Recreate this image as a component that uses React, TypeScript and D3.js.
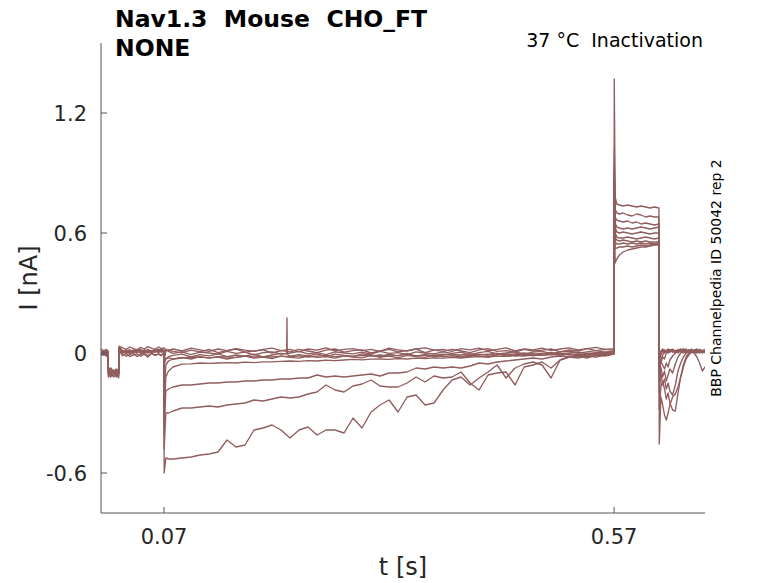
import * as d3 from 'd3';

const W = 778;
const H = 583;

// sample times (s) for each phase of the protocol
const tHold = [0, 0.003, 0.006, 0.0078, 0.0082, 0.011, 0.014, 0.017, 0.0196, 0.0202, 0.024, 0.028, 0.032, 0.036, 0.04, 0.044, 0.048, 0.052, 0.056, 0.06, 0.064, 0.067, 0.0698];
const tPre = [0.0702, 0.072, 0.075, 0.08,
  0.09, 0.1, 0.11, 0.12, 0.13, 0.14, 0.15, 0.16, 0.17, 0.18,
  0.19, 0.2, 0.21, 0.22, 0.23, 0.24, 0.25, 0.26, 0.27, 0.28,
  0.29, 0.3, 0.31, 0.32, 0.33, 0.34, 0.35, 0.36, 0.37, 0.38,
  0.39, 0.4, 0.41, 0.42, 0.43, 0.44, 0.45, 0.46, 0.47, 0.48,
  0.49, 0.5, 0.51, 0.52, 0.53, 0.54, 0.55, 0.56,
  0.5698];
const tTest = [0.5702, 0.5712, 0.573, 0.576, 0.58, 0.585, 0.59, 0.595, 0.6, 0.605, 0.61, 0.615, 0.6198];
const tTail = [0.6202, 0.622, 0.624, 0.626, 0.628, 0.63, 0.632, 0.635, 0.638, 0.641, 0.644, 0.647, 0.65, 0.653, 0.656, 0.659, 0.662, 0.665, 0.668, 0.671];

// current (nA), one row per sweep
const iHold = [
  [0.004, -0.006, 0.008, 0.0, -0.09, -0.1, -0.085, -0.11, -0.095, 0.03, 0.01, 0.004, 0.014, 0.0, 0.01, 0.006, 0.016, 0.002, 0.012, 0.008, 0.018, 0.01, 0.006],
  [0.01, 0.002, -0.004, 0.008, -0.08, -0.095, -0.105, -0.09, -0.1, 0.025, 0.0, 0.012, 0.006, 0.016, 0.004, 0.012, 0.0, 0.014, 0.008, 0.018, 0.006, 0.014, 0.01],
  [-0.004, 0.008, 0.002, -0.006, -0.1, -0.085, -0.095, -0.12, -0.105, 0.02, 0.008, -0.002, 0.01, 0.004, 0.014, -0.002, 0.008, 0.012, 0.002, 0.01, 0.016, 0.004, 0.012],
  [0.006, -0.002, 0.01, 0.004, -0.11, -0.1, -0.09, -0.1, -0.125, 0.015, 0.012, 0.006, -0.002, 0.01, 0.002, 0.016, 0.006, 0.0, 0.012, 0.004, 0.01, 0.02, 0.008],
  [0.0, 0.01, -0.006, 0.006, -0.07, -0.09, -0.1, -0.085, -0.08, 0.028, 0.004, 0.014, 0.0, 0.008, 0.012, 0.004, 0.01, 0.018, 0.006, 0.014, 0.002, 0.012, 0.016],
  [0.0, -0.012, -0.004, -0.014, -0.095, -0.11, -0.1, -0.095, -0.09, 0.01, -0.004, -0.016, -0.008, -0.002, -0.018, -0.006, -0.002, -0.014, 0.0, -0.01, -0.004, -0.012, 0.002],
  [-0.006, 0.004, 0.012, 0.002, -0.12, -0.105, -0.115, -0.1, -0.11, 0.018, 0.006, 0.01, 0.016, 0.002, 0.008, 0.018, 0.004, 0.01, 0.0, 0.016, 0.01, 0.022, 0.004],
  [0.002, 0.012, 0.0, 0.01, -0.085, -0.075, -0.095, -0.08, -0.1, 0.026, 0.01, 0.002, 0.012, 0.006, 0.018, 0.008, 0.002, 0.014, 0.01, 0.004, 0.018, 0.012, 0.014],
  [0.02, 0.012, 0.018, 0.008, -0.105, -0.12, -0.09, -0.115, -0.085, 0.034, 0.026, 0.018, 0.03, 0.022, 0.016, 0.028, 0.02, 0.032, 0.024, 0.018, 0.03, 0.022, 0.026],
  [-0.012, -0.004, -0.016, 0.0, -0.075, -0.1, -0.12, -0.105, -0.115, 0.012, -0.014, -0.002, -0.018, -0.01, -0.004, -0.016, -0.006, -0.02, -0.002, -0.012, -0.006, -0.014, 0.004],
];

const iPre = [
  [-0.6, -0.525, -0.53, -0.53,
    -0.525, -0.52, -0.51, -0.505, -0.495, -0.435, -0.47, -0.46, -0.385, -0.375,
    -0.36, -0.385, -0.425, -0.385, -0.37, -0.41, -0.385, -0.385, -0.4, -0.325,
    -0.375, -0.295, -0.26, -0.235, -0.295, -0.22, -0.21, -0.26, -0.25, -0.185,
    -0.135, -0.12, -0.16, -0.125, -0.095, -0.06, -0.125, -0.075, -0.055, -0.045,
    -0.06, -0.125, -0.035, -0.02, -0.025, -0.015, -0.02, -0.01,
    -0.005],
  [-0.48, -0.3, -0.3, -0.29,
    -0.275, -0.275, -0.27, -0.265, -0.27, -0.26, -0.255, -0.25, -0.235, -0.24,
    -0.23, -0.22, -0.225, -0.22, -0.205, -0.195, -0.16, -0.185, -0.195, -0.165,
    -0.155, -0.135, -0.165, -0.17, -0.17, -0.15, -0.12, -0.145, -0.115, -0.125,
    -0.12, -0.095, -0.15, -0.185, -0.11, -0.1, -0.095, -0.16, -0.07, -0.06,
    -0.045, -0.075, -0.035, -0.02, -0.015, -0.025, -0.01, -0.015,
    -0.005],
  [-0.4, -0.19, -0.18, -0.17,
    -0.16, -0.16, -0.155, -0.15, -0.15, -0.145, -0.145, -0.14, -0.14, -0.135,
    -0.135, -0.13, -0.13, -0.125, -0.125, -0.11, -0.12, -0.115, -0.12, -0.115,
    -0.11, -0.105, -0.115, -0.1, -0.1, -0.095, -0.075, -0.08, -0.07, -0.075,
    -0.07, -0.075, -0.065, -0.05, -0.055, -0.045, -0.04, -0.035, -0.03, -0.025,
    -0.03, -0.02, -0.015, -0.02, -0.01, -0.015, -0.005, -0.01,
    0.0],
  [-0.32, -0.12, -0.09, -0.07,
    -0.056, -0.054, -0.05, -0.052, -0.05, -0.048, -0.05, -0.046, -0.048, -0.044,
    -0.044, -0.042, -0.04, -0.042, -0.038, -0.04, -0.036, -0.038, -0.035, -0.032,
    -0.034, -0.031, -0.03, -0.032, -0.028, -0.03, -0.026, -0.028, -0.024, -0.026,
    -0.022, -0.025, -0.02, -0.018, -0.02, -0.015, -0.017, -0.013, -0.015, -0.01,
    -0.012, -0.008, -0.01, -0.006, -0.008, -0.004, -0.006, -0.002,
    -0.002],
  [-0.2, -0.06, -0.04, -0.03,
    -0.025, -0.022, -0.02, -0.024, -0.018, -0.02, -0.022, -0.016, -0.02, -0.018,
    -0.02, -0.016, -0.018, -0.014, -0.02, -0.016, -0.012, -0.018, -0.014, -0.016,
    -0.012, -0.016, -0.01, -0.014, -0.012, -0.008, -0.014, -0.01, -0.012, -0.006,
    -0.01, -0.008, -0.004, -0.01, -0.006, -0.002, -0.008, -0.004, 0.0, -0.006,
    -0.002, 0.002, -0.004, 0.0, 0.004, -0.002, 0.002, 0.004,
    0.0],
  [-0.06, -0.03, -0.018, -0.012,
    -0.006, -0.02, -0.008, -0.014, -0.004, -0.018, -0.01, -0.016, -0.006, -0.02,
    -0.01, -0.002, -0.016, -0.008, -0.014, -0.004, -0.018, -0.006, -0.012, -0.018,
    -0.004, -0.01, -0.02, -0.006, -0.014, -0.002, -0.016, -0.008, -0.02, -0.01,
    -0.004, -0.014, -0.018, -0.006, -0.012, -0.002, -0.016, -0.008, -0.004, -0.014,
    -0.006, 0.0, -0.012, -0.004, -0.014, -0.002, -0.008, 0.0,
    -0.004],
  [-0.03, 0.01, 0.016, 0.008,
    0.002, 0.014, 0.006, 0.018, 0.002, 0.012, 0.02, 0.004, 0.01, 0.016,
    0.0, 0.012, 0.006, 0.018, 0.01, 0.002, 0.014, 0.02, 0.004, 0.012,
    0.016, 0.0, 0.01, 0.018, 0.006, 0.012, 0.02, 0.002, 0.014, 0.008,
    0.018, 0.01, 0.002, 0.016, 0.022, 0.008, 0.012, 0.004, 0.018, 0.01,
    0.014, 0.02, 0.006, 0.016, 0.01, 0.022, 0.012, 0.018,
    0.014],
  [-0.02, 0.015, 0.008, -0.002,
    0.006, -0.008, 0.004, 0.0, -0.006, 0.008, -0.002, 0.004, -0.01, 0.002,
    0.006, -0.006, 0.0, 0.008, -0.004, 0.002, -0.008, 0.006, 0.0, -0.004,
    0.004, -0.006, 0.008, -0.002, 0.002, -0.008, 0.006, 0.0, -0.004, 0.006,
    -0.002, 0.004, -0.008, 0.002, 0.008, -0.004, 0.0, 0.006, -0.006, 0.004,
    0.008, -0.002, 0.004, 0.01, 0.0, 0.006, 0.012, 0.004,
    0.01],
  [0.025, 0.018, 0.012, 0.02,
    0.01, 0.024, 0.016, 0.008, 0.02, 0.012, 0.022, 0.014, 0.008, 0.018,
    0.024, 0.012, 0.018, 0.006, 0.02, 0.014, 0.026, 0.01, 0.018, 0.022,
    0.012, 0.018, 0.008, 0.024, 0.016, 0.01, 0.02, 0.026, 0.014, 0.018,
    0.008, 0.022, 0.016, 0.024, 0.012, 0.018, 0.026, 0.01, 0.02, 0.016,
    0.024, 0.012, 0.02, 0.026, 0.016, 0.022, 0.028, 0.018,
    0.022],
  [-0.02, -0.03, -0.024, -0.03,
    -0.022, -0.03, -0.018, -0.026, -0.02, -0.03, -0.022, -0.016, -0.026, -0.02,
    -0.028, -0.016, -0.022, -0.026, -0.014, -0.022, -0.018, -0.026, -0.014, -0.02,
    -0.024, -0.012, -0.02, -0.016, -0.024, -0.012, -0.018, -0.022, -0.01, -0.018,
    -0.014, -0.02, -0.01, -0.016, -0.02, -0.008, -0.004, -0.014, -0.01, -0.004,
    -0.012, -0.006, -0.002, -0.01, -0.004, -0.008, 0.0, -0.006,
    -0.004],
];

const iTest = [
  [0.78, 0.45, 0.47, 0.49, 0.505, 0.515, 0.52, 0.525, 0.53, 0.53, 0.535, 0.54, 0.54],
  [0.8, 0.52, 0.525, 0.53, 0.53, 0.535, 0.53, 0.535, 0.54, 0.535, 0.54, 0.545, 0.545],
  [0.84, 0.56, 0.545, 0.545, 0.55, 0.545, 0.55, 0.545, 0.55, 0.545, 0.55, 0.545, 0.55],
  [0.86, 0.58, 0.565, 0.56, 0.565, 0.56, 0.555, 0.56, 0.555, 0.56, 0.555, 0.555, 0.555],
  [0.88, 0.6, 0.58, 0.575, 0.575, 0.58, 0.575, 0.57, 0.575, 0.58, 0.575, 0.57, 0.575],
  [0.9, 0.63, 0.605, 0.6, 0.605, 0.6, 0.595, 0.6, 0.605, 0.6, 0.595, 0.6, 0.6],
  [0.92, 0.65, 0.63, 0.625, 0.62, 0.625, 0.62, 0.625, 0.63, 0.625, 0.62, 0.625, 0.63],
  [0.95, 0.68, 0.665, 0.66, 0.655, 0.66, 0.65, 0.655, 0.645, 0.65, 0.645, 0.64, 0.645],
  [1.02, 0.72, 0.7, 0.695, 0.7, 0.69, 0.685, 0.695, 0.69, 0.68, 0.685, 0.68, 0.68],
  [1.37, 0.78, 0.745, 0.74, 0.735, 0.74, 0.735, 0.73, 0.735, 0.73, 0.725, 0.73, 0.725],
];

const iTail = [
  [0.0, 0.01, 0.02, 0.006, 0.014, 0.0, 0.012, 0.02, 0.004, 0.016, 0.008, 0.022, 0.01, 0.002, 0.016, 0.008, 0.018, 0.006, 0.014, 0.01],
  [-0.02, 0.004, 0.016, 0.0, 0.01, 0.02, 0.006, 0.014, 0.0, 0.012, 0.018, 0.004, 0.014, 0.008, 0.02, 0.002, 0.012, 0.016, 0.006, 0.018],
  [-0.04, -0.01, 0.008, 0.016, 0.002, 0.012, 0.018, 0.004, 0.014, 0.006, 0.02, 0.01, 0.0, 0.016, 0.008, 0.014, 0.02, 0.004, 0.012, 0.016],
  [-0.06, -0.03, -0.01, 0.006, 0.012, 0.0, 0.016, 0.01, 0.004, 0.018, 0.008, 0.014, 0.02, 0.006, 0.012, 0.0, 0.01, 0.018, 0.008, 0.012],
  [-0.08, -0.05, -0.02, -0.03, 0.0, 0.01, 0.004, 0.016, 0.008, 0.0, 0.012, 0.018, 0.006, 0.014, 0.004, 0.016, 0.008, 0.014, 0.0, 0.01],
  [-0.1, -0.04, -0.06, -0.08, -0.05, -0.07, -0.035, -0.015, 0.0, 0.012, 0.006, 0.0, 0.014, 0.006, 0.0, 0.012, 0.004, 0.01, 0.002, 0.012],
  [-0.15, -0.07, -0.12, -0.09, -0.14, -0.11, -0.08, -0.1, -0.055, -0.02, 0.0, 0.012, 0.004, 0.014, 0.008, 0.0, -0.02, -0.05, -0.09, -0.07],
  [-0.2, -0.1, -0.16, -0.13, -0.18, -0.15, -0.19, -0.21, -0.16, -0.09, -0.05, -0.02, 0.0, 0.01, 0.004, 0.012, 0.006, 0.0, 0.01, 0.006],
  [-0.28, -0.17, -0.14, -0.18, -0.23, -0.2, -0.25, -0.285, -0.29, -0.2, -0.12, -0.06, -0.02, 0.0, 0.01, 0.004, 0.0, 0.012, 0.006, 0.0],
  [-0.455, -0.22, -0.26, -0.31, -0.335, -0.3, -0.26, -0.22, -0.205, -0.17, -0.12, -0.07, -0.03, -0.01, 0.006, 0.0, 0.01, 0.002, 0.008, 0.012],
];

// short artefact on one sweep during the prepulse
const spikeSweep = 5;
const spikePts: [number, number][] = [[0.2063, -0.004], [0.2066, 0.175], [0.2069, -0.006]];

const xTicks = [0.07, 0.57];
const yTicks = [-0.6, 0, 0.6, 1.2];

const traceColor = '#915d5d';
const axisColor = '#555555';
const textColor = '#262626';
const font = 'DejaVu Sans, sans-serif';

export default function App() {
  const left = 101, right = 705, top = 43, bottom = 513;
  const x = d3.scaleLinear().domain([0, 0.671]).range([left, right]);
  const y = d3.scaleLinear().domain([-0.8, 1.55]).range([bottom, top]);

  const line = d3.line<[number, number]>()
    .x(d => x(d[0]))
    .y(d => y(d[1]));

  const sweeps = iHold.map((_, k) => {
    let pts: [number, number][] = [
      ...d3.zip(tHold, iHold[k]),
      ...d3.zip(tPre, iPre[k]),
      ...d3.zip(tTest, iTest[k]),
      ...d3.zip(tTail, iTail[k]),
    ] as [number, number][];
    if (k === spikeSweep) pts = pts.concat(spikePts).sort((a, b) => a[0] - b[0]);
    return pts;
  });

  return (
    <svg width={W} height={H} style={{ position: 'absolute', left: 0, top: 0, background: '#fff' }}>
      <defs>
        <clipPath id="plotArea">
          <rect x={left} y={top} width={right - left} height={bottom - top} />
        </clipPath>
      </defs>

      <g clipPath="url(#plotArea)">
        {sweeps.map((s, k) => (
          <path key={k} d={line(s) ?? ''} fill="none" stroke={traceColor} strokeWidth={1.35} strokeLinejoin="round" />
        ))}
      </g>

      {/* axes */}
      <line x1={left} x2={left} y1={top} y2={bottom} stroke={axisColor} strokeWidth={1} />
      <line x1={left} x2={right} y1={bottom} y2={bottom} stroke={axisColor} strokeWidth={1} />
      {yTicks.map(t => (
        <g key={t}>
          <line x1={left} x2={left + 6} y1={y(t)} y2={y(t)} stroke={axisColor} />
          <text x={left - 14} y={y(t)} dy="0.36em" textAnchor="end" fontFamily={font} fontSize={21} fill={textColor}>{String(t)}</text>
        </g>
      ))}
      {xTicks.map(t => (
        <g key={t}>
          <line x1={x(t)} x2={x(t)} y1={bottom} y2={bottom - 6} stroke={axisColor} />
          <text x={x(t)} y={544} textAnchor="middle" fontFamily={font} fontSize={21} fill={textColor}>{String(t)}</text>
        </g>
      ))}

      <text x={(left + right) / 2} y={575} textAnchor="middle" fontFamily={font} fontSize={24} fill={textColor}>t [s]</text>
      <text transform={`translate(37,${(top + bottom) / 2}) rotate(-90)`} textAnchor="middle" fontFamily={font} fontSize={24} fill={textColor}>I [nA]</text>

      <text x={115} y={27} fontFamily={font} fontSize={23.5} fontWeight="bold" fill="#000" style={{ whiteSpace: 'pre' }}>Nav1.3  Mouse  CHO_FT</text>
      <text x={115} y={56} fontFamily={font} fontSize={23.5} fontWeight="bold" fill="#000">NONE</text>
      <text x={703} y={47} textAnchor="end" fontFamily={font} fontSize={19} fill="#000" style={{ whiteSpace: 'pre' }}>37 °C  Inactivation</text>
      <text transform={`translate(721,${(top + bottom) / 2}) rotate(-90)`} textAnchor="middle" fontFamily={font} fontSize={14} fill="#000">BBP Channelpedia ID 50042 rep 2</text>
    </svg>
  );
}
